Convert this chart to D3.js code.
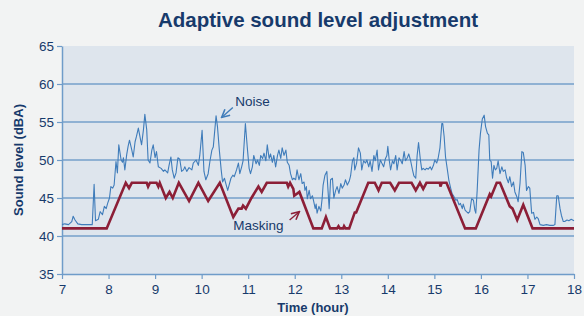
<!DOCTYPE html>
<html>
<head>
<meta charset="utf-8">
<script src="https://cdn.jsdelivr.net/npm/d3@7"></script>
<style>
  body { margin: 0; background: #f2f3f3; }
  svg { display: block; font-family: "Liberation Sans", Arial, sans-serif; }
</style>
</head>
<body>
<div id="container"></div>
<script>
//Chart data (time in hours, level in dBA)
let xTicks = [7, 8, 9, 10, 11, 12, 13, 14, 15, 16, 17, 18];
let yTicks = [35, 40, 45, 50, 55, 60, 65];
let gridLevels = [40, 45, 50, 55, 60];

let noiseTime = [7.00, 7.06, 7.14, 7.21, 7.24, 7.28, 7.34, 7.42, 7.65, 7.69, 7.72, 7.78, 7.82, 7.87, 7.91, 7.95, 7.98,
  8.02, 8.05, 8.09, 8.12, 8.16, 8.19, 8.22, 8.27, 8.30, 8.32, 8.35, 8.39, 8.42, 8.45, 8.50, 8.53, 8.57, 8.60, 8.64, 8.68,
  8.71, 8.75, 8.78, 8.82, 8.85, 8.89, 8.93, 8.96, 9.00, 9.03, 9.07, 9.13, 9.18, 9.21, 9.27, 9.30, 9.34, 9.37, 9.41, 9.45,
  9.49, 9.53, 9.57, 9.61, 9.64, 9.68, 9.73, 9.79, 9.82, 9.88, 9.93, 9.96, 10.01, 10.05, 10.09, 10.14, 10.18, 10.22, 10.25,
  10.31, 10.34, 10.38, 10.42, 10.45, 10.49, 10.52, 10.56, 10.59, 10.63, 10.67, 10.70, 10.75, 10.79, 10.82, 10.86, 10.89,
  10.94, 10.98, 11.02, 11.05, 11.09, 11.12, 11.17, 11.20, 11.24, 11.27, 11.31, 11.34, 11.38, 11.41, 11.45, 11.48, 11.52,
  11.55, 11.59, 11.63, 11.66, 11.70, 11.73, 11.77, 11.81, 11.84, 11.88, 11.91, 11.95, 11.98, 12.02, 12.05, 12.09, 12.13,
  12.16, 12.20, 12.22, 12.25, 12.27, 12.31, 12.34, 12.38, 12.41, 12.44, 12.46, 12.48, 12.52, 12.56, 12.59, 12.61, 12.65,
  12.69, 12.71, 12.74, 12.77, 12.81, 12.84, 12.88, 12.91, 12.95, 12.99, 13.02, 13.06, 13.09, 13.13, 13.17, 13.20, 13.24,
  13.27, 13.29, 13.33, 13.37, 13.41, 13.44, 13.48, 13.52, 13.55, 13.59, 13.62, 13.66, 13.70, 13.73, 13.77, 13.80, 13.84,
  13.87, 13.91, 13.95, 13.98, 14.00, 14.03, 14.06, 14.10, 14.13, 14.17, 14.20, 14.24, 14.28, 14.31, 14.35, 14.38, 14.42,
  14.45, 14.49, 14.53, 14.56, 14.60, 14.63, 14.66, 14.70, 14.73, 14.76, 14.80, 14.83, 14.87, 14.91, 14.94, 14.98, 15.01,
  15.05, 15.08, 15.12, 15.16, 15.18, 15.21, 15.24, 15.28, 15.31, 15.35, 15.38, 15.42, 15.46, 15.49, 15.53, 15.56, 15.60,
  15.62, 15.66, 15.69, 15.73, 15.76, 15.80, 15.84, 15.87, 15.89, 15.92, 15.96, 15.99, 16.03, 16.07, 16.10, 16.14, 16.17,
  16.19, 16.22, 16.25, 16.28, 16.31, 16.34, 16.37, 16.41, 16.45, 16.48, 16.52, 16.55, 16.59, 16.62, 16.66, 16.70, 16.73,
  16.77, 16.80, 16.84, 16.88, 16.91, 16.95, 16.98, 17.02, 17.05, 17.09, 17.13, 17.16, 17.20, 17.23, 17.27, 17.34, 17.41,
  17.48, 17.56, 17.59, 17.63, 17.66, 17.70, 17.73, 17.77, 17.80, 17.85, 17.89, 17.94, 18.00];
let noiseLevel = [41.5, 41.6, 41.5, 41.9, 42.6, 42.1, 41.6, 41.5, 41.5, 46.8, 42.0, 42.2, 43.2, 42.8, 43.9, 43.6, 44.3,
  45.0, 46.5, 46.3, 46.7, 49.8, 48.3, 52.0, 50.0, 49.7, 50.3, 48.7, 50.7, 51.8, 52.6, 51.3, 50.4, 52.4, 53.1, 54.2, 52.9,
  52.0, 54.0, 56.0, 54.0, 50.0, 49.6, 51.3, 52.0, 50.3, 51.1, 49.1, 48.9, 48.5, 48.7, 48.3, 49.3, 50.4, 48.7, 47.6, 48.3,
  50.3, 50.1, 48.5, 48.7, 49.1, 48.5, 49.0, 48.7, 49.6, 50.0, 49.3, 50.6, 53.9, 48.5, 47.4, 48.2, 49.9, 51.3, 51.7,
  55.8, 54.4, 51.3, 48.7, 47.1, 47.6, 46.9, 46.0, 46.7, 47.6, 48.0, 47.8, 48.7, 49.6, 48.2, 49.1, 49.9,
  54.8, 51.7, 48.9, 48.2, 49.1, 50.6, 49.5, 50.0, 49.3, 50.6, 50.2, 50.9, 49.9, 52.0, 50.2, 50.8, 49.7,
  50.6, 49.1, 50.6, 51.3, 50.2, 51.6, 50.6, 51.3, 49.7, 49.3, 48.2, 47.4, 47.6, 47.4, 48.7, 47.4, 48.2,
  46.9, 47.1, 46.0, 46.5, 44.9, 46.0, 44.9, 45.3, 44.5, 43.6, 44.2, 43.0, 43.9, 43.3, 45.0, 46.7, 48.0,
  48.5, 46.5, 43.6, 47.4, 47.6, 45.0, 46.0, 46.5, 45.6, 46.9, 46.3, 46.7, 47.4, 46.7, 47.2, 47.9, 49.9,
  50.3, 48.7, 49.6, 51.6, 50.9, 48.7, 49.9, 49.6, 50.0, 49.1, 49.9, 48.5, 50.6, 49.9, 51.3, 48.7, 50.0,
  49.6, 49.1, 50.2, 50.6, 51.8, 50.0, 48.7, 49.9, 49.5, 50.6, 48.7, 50.3, 49.9, 49.5, 51.1, 49.9, 50.3,
  50.8, 49.9, 48.7, 47.9, 47.6, 50.6, 52.3, 50.0, 48.7, 48.9, 48.7, 48.9, 48.8, 49.1, 48.7, 49.3, 50.0,
  49.6, 50.2, 51.6, 54.8, 54.8, 53.1, 50.4, 48.7, 47.4, 46.3, 45.6, 45.2, 44.7, 44.8, 44.1, 44.3, 43.6,
  44.2, 43.4, 43.2, 43.0, 43.2, 44.9, 44.7, 43.4, 43.0, 46.0, 51.3, 53.5, 55.4, 55.9, 54.4, 53.5, 53.3,
  50.0, 49.8, 47.6, 49.3, 48.7, 48.9, 49.9, 48.2, 49.1, 48.5, 48.7, 47.7, 47.0, 47.8, 46.5, 47.1, 45.8,
  45.2, 44.5, 46.9, 51.1, 51.0, 49.3, 46.0, 46.5, 46.3, 43.0, 43.1, 42.2, 42.5, 42.3, 41.5, 41.4, 41.5,
  41.4, 41.4, 41.5, 45.3, 45.3, 43.6, 42.7, 41.9, 41.9, 42.1, 42.0, 42.2, 42.0];

let maskTime = [7.00, 7.96, 8.37, 8.44, 8.50, 8.82, 8.85, 8.89, 9.03, 9.07, 9.10, 9.23, 9.31, 9.38, 9.51, 9.73, 9.93,
  10.14, 10.39, 10.68, 10.79, 10.86, 10.89, 10.95, 11.07, 11.22, 11.29, 11.40, 11.83, 11.86, 11.90, 11.97, 11.99,
  12.10, 12.40, 12.58, 12.67, 12.76, 12.91, 12.94, 12.97, 13.04, 13.06, 13.09, 13.17, 13.29, 13.32, 13.58, 13.72,
  13.80, 13.87, 14.05, 14.15, 14.24, 14.51, 14.60, 14.69, 14.76, 14.83, 15.12, 15.13, 15.16, 15.26, 15.66, 15.89,
  16.19, 16.22, 16.34, 16.41, 16.62, 16.68, 16.78, 16.91, 17.11, 18.00];
let maskLevel = [41.0, 41.0, 47.0, 46.3, 47.0, 47.0, 46.5, 47.0, 47.0, 46.5, 47.0, 45.0, 45.8, 45.0, 47.0, 44.6, 47.0,
  44.6, 47.0, 42.5, 43.6, 43.6, 44.0, 43.6, 45.0, 46.5, 45.8, 47.0, 47.0, 46.5, 47.0, 46.2, 45.3,
  45.8, 41.0, 41.0, 42.5, 41.0, 41.0, 41.3, 41.0, 41.0, 41.3, 41.0, 41.0, 43.1, 43.1, 47.0, 47.0,
  46.0, 47.0, 47.0, 46.0, 47.0, 47.0, 46.0, 47.0, 46.2, 47.0, 47.0, 46.5, 47.0, 47.0, 41.0, 41.0,
  45.5, 45.2, 47.0, 47.0, 43.9, 43.6, 42.1, 44.1, 41.0, 41.0];

let width = 584;
let height = 316;
let mLeft = 62, mRight = 574, mTop = 46, mBottom = 274;

let textColor = "#173a6b";

//Create an SVG
let svg = d3.select("#container")
  .append("svg")
  .attr("width", width)
  .attr("height", height);

svg.append("rect")
  .attr("width", width)
  .attr("height", height)
  .attr("fill", "#f2f3f3");

let x = d3.scaleLinear().domain([7, 18]).range([mLeft, mRight]);
let y = d3.scaleLinear().domain([35, 65]).range([mBottom, mTop]);

//Plot background
svg.append("rect")
  .attr("x", mLeft)
  .attr("y", mTop)
  .attr("width", mRight - mLeft)
  .attr("height", mBottom - mTop)
  .attr("fill", "#dee5ed");

//Grid lines
svg.selectAll(".grid")
  .data(gridLevels)
  .enter()
  .append("line")
  .attr("x1", mLeft)
  .attr("x2", mRight)
  .attr("y1", d => y(d))
  .attr("y2", d => y(d))
  .attr("stroke", "#8fb1d3")
  .attr("stroke-width", 2);

//Axes
let xAxis = svg.append("g")
  .attr("transform", `translate(0,${mBottom})`)
  .call(d3.axisBottom(x).tickValues(xTicks).tickSize(5).tickPadding(5).tickSizeOuter(0));

let yAxis = svg.append("g")
  .attr("transform", `translate(${mLeft},0)`)
  .call(d3.axisLeft(y).tickValues(yTicks).tickSize(5).tickPadding(3).tickSizeOuter(0));

[xAxis, yAxis].forEach(ax => {
  ax.select(".domain").attr("stroke", "#6f9cc9").attr("stroke-width", 1.5);
  ax.selectAll(".tick line").attr("stroke", "#6f9cc9").attr("stroke-width", 1.2);
  ax.selectAll(".tick text")
    .attr("fill", textColor)
    .style("font-size", "13.5px")
    .style("font-family", "'Liberation Sans', Arial, sans-serif");
});

//Lines
let noiseData = noiseTime.map((t, i) => [t, noiseLevel[i]]);
let maskData = maskTime.map((t, i) => [t, maskLevel[i]]);

let line = d3.line()
  .x(d => x(d[0]))
  .y(d => y(d[1]));

svg.append("path")
  .datum(noiseData)
  .attr("d", line)
  .attr("fill", "none")
  .attr("stroke", "#3f7cba")
  .attr("stroke-width", 1.1)
  .attr("stroke-linejoin", "round");

svg.append("path")
  .datum(maskData)
  .attr("d", line)
  .attr("fill", "none")
  .attr("stroke", "#8c1f37")
  .attr("stroke-width", 2.6)
  .attr("stroke-linejoin", "miter");

//Arrow markers
let defs = svg.append("defs");
[["arrowBlue", "#3f7cba"], ["arrowRed", "#8c1f37"]].forEach(m => {
  defs.append("marker")
    .attr("id", m[0])
    .attr("viewBox", "0 0 10 10")
    .attr("refX", 9)
    .attr("refY", 5)
    .attr("markerWidth", 7)
    .attr("markerHeight", 7)
    .attr("orient", "auto")
    .append("path")
    .attr("d", "M1,1 L9,5 L1,9")
    .attr("fill", "none")
    .attr("stroke", m[1])
    .attr("stroke-width", 1.6);
});

//Annotations
svg.append("text")
  .attr("x", x(10.72))
  .attr("y", y(57.1))
  .attr("fill", textColor)
  .style("font-size", "13.5px")
  .text("Noise");

svg.append("line")
  .attr("x1", x(10.67))
  .attr("y1", y(56.9))
  .attr("x2", x(10.43))
  .attr("y2", y(55.6))
  .attr("stroke", "#3f7cba")
  .attr("stroke-width", 1.4)
  .attr("marker-end", "url(#arrowBlue)");

svg.append("text")
  .attr("x", x(10.68))
  .attr("y", y(40.8))
  .attr("fill", textColor)
  .style("font-size", "13.5px")
  .text("Masking");

svg.append("line")
  .attr("x1", x(11.89))
  .attr("y1", y(42.1))
  .attr("x2", x(12.10))
  .attr("y2", y(43.2))
  .attr("stroke", "#8c1f37")
  .attr("stroke-width", 1.4)
  .attr("marker-end", "url(#arrowRed)");

//Titles
svg.append("text")
  .attr("x", 318)
  .attr("y", 27)
  .attr("text-anchor", "middle")
  .attr("fill", textColor)
  .style("font-size", "20.5px")
  .style("font-weight", "bold")
  .text("Adaptive sound level adjustment");

svg.append("text")
  .attr("x", 313)
  .attr("y", 312)
  .attr("text-anchor", "middle")
  .attr("fill", textColor)
  .style("font-size", "13px")
  .style("font-weight", "bold")
  .text("Time (hour)");

svg.append("text")
  .attr("transform", `translate(23,${(mTop + mBottom) / 2}) rotate(-90)`)
  .attr("text-anchor", "middle")
  .attr("fill", textColor)
  .style("font-size", "13px")
  .style("font-weight", "bold")
  .text("Sound level (dBA)");
</script>
</body>
</html>
